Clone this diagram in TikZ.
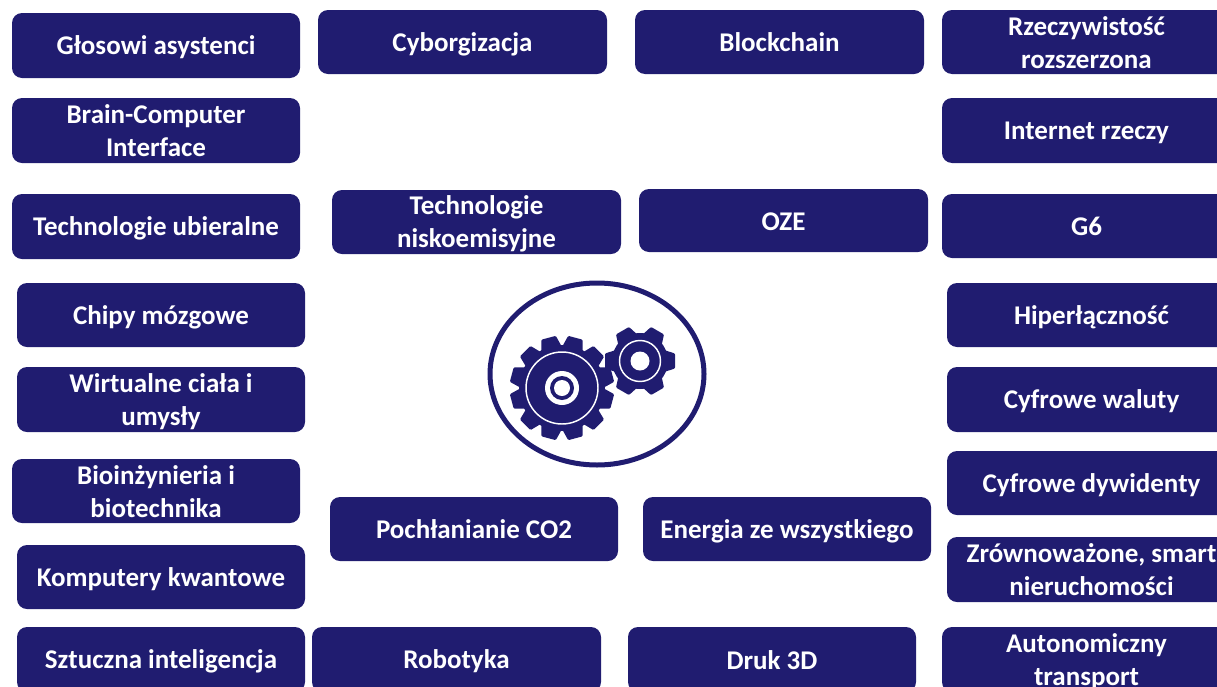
\documentclass[tikz,border=0pt]{standalone}
\usepackage{fontspec}
\setmainfont{Carlito}
\definecolor{navy}{HTML}{201C70}
\newcommand{\linestrut}{\rule[-2.7pt]{0pt}{20pt}}
\tikzset{
  tagbox/.style={draw=none,fill=navy,rounded corners=7.5pt,inner sep=0pt,text=white,
    font=\fontsize{20.25}{24.75}\selectfont\bfseries,align=center},
  gearfill/.style={fill=navy,draw=none},
  holefill/.style={fill=white,draw=none}
}
\newcommand{\tagbox}[6]{%
  \node[tagbox,minimum width={(#4-#2)*0.75pt},minimum height={(#5-#3)*0.75pt}] (#1)
    at ({(#2+#4)/2},{(#3+#5)/2}) {\linestrut #6\linestrut};}
\begin{document}
\begin{tikzpicture}[x=0.75pt,y=-0.75pt]
\useasboundingbox (0,0) rectangle (1217,686);
\clip (0,0) rectangle (1217,686);
\tagbox{a1}{12}{13}{300}{78}{Głosowi asystenci}
\tagbox{a2}{318}{10}{607}{74}{Cyborgizacja}
\tagbox{a3}{635}{10}{924}{74}{Blockchain}
\tagbox{a4}{942}{10}{1231}{74}{Rzeczywistość\\\linestrut rozszerzona}
\tagbox{b1}{12}{98}{300}{163}{Brain-Computer\\\linestrut Interface}
\tagbox{b2}{942}{98}{1231}{163}{Internet rzeczy}
\tagbox{c1}{12}{194}{300}{259}{Technologie ubieralne}
\tagbox{c2}{332}{190}{621}{254}{Technologie\\\linestrut niskoemisyjne}
\tagbox{c3}{639}{189}{928}{252}{OZE}
\tagbox{c4}{942}{194}{1231}{258}{G6}
\tagbox{d1}{17}{283}{305}{347}{Chipy mózgowe}
\tagbox{d2}{947}{283}{1236}{347}{Hiperłączność}
\tagbox{e1}{17}{367}{305}{432}{Wirtualne ciała i\\\linestrut umysły}
\tagbox{e2}{947}{367}{1236}{432}{Cyfrowe waluty}
\tagbox{f1}{12}{459}{300}{523}{Bioinżynieria i\\\linestrut biotechnika}
\tagbox{f2}{947}{451}{1236}{515}{Cyfrowe dywidenty}
\tagbox{g1}{330}{497}{618}{561}{Pochłanianie CO2}
\tagbox{g2}{643}{497}{931}{561}{Energia ze wszystkiego}
\tagbox{g3}{947}{537}{1236}{602}{Zrównoważone, smart\\\linestrut nieruchomości}
\tagbox{h1}{17}{545}{305}{609}{Komputery kwantowe}
\tagbox{i1}{17}{627}{305}{692}{Sztuczna inteligencja}
\tagbox{i2}{312}{627}{601}{692}{Robotyka}
\tagbox{i3}{628}{627}{916}{692}{Druk 3D}
\tagbox{i4}{942}{627}{1231}{692}{Autonomiczny\\\linestrut transport}
% emblem
\draw[navy,line width=3.75pt] (597,374) ellipse [x radius=107,y radius=91];
% large gear
\begin{scope}[shift={(562,388)}]
  \fill[gearfill] (0,0) circle [radius=43];
  \foreach \a in {15,45,...,345}
    \fill[gearfill,rotate=\a,rounded corners=0.8pt] (40,-10.5) -- (52,-7.5) -- (52,7.5) -- (40,10.5) -- cycle;
  \draw[white,line width=1.1pt] (0,0) circle [radius=36];
  \fill[holefill] (0,0) circle [radius=17];
  \fill[gearfill] (0,0) circle [radius=12];
  \fill[holefill] (0,0) circle [radius=8];
\end{scope}
% small gear
\begin{scope}[shift={(640,361)}]
  \fill[gearfill] (0,0) circle [radius=28];
  \foreach \a in {0,60,...,300}
    \fill[gearfill,rotate=\a,rounded corners=0.8pt] (24,-11) -- (35,-7.5) -- (35,7.5) -- (24,11) -- cycle;
  \draw[white,line width=1.1pt] (0,0) circle [radius=20.5];
  \fill[holefill] (0,0) circle [radius=9.5];
\end{scope}
\end{tikzpicture}
\end{document}
